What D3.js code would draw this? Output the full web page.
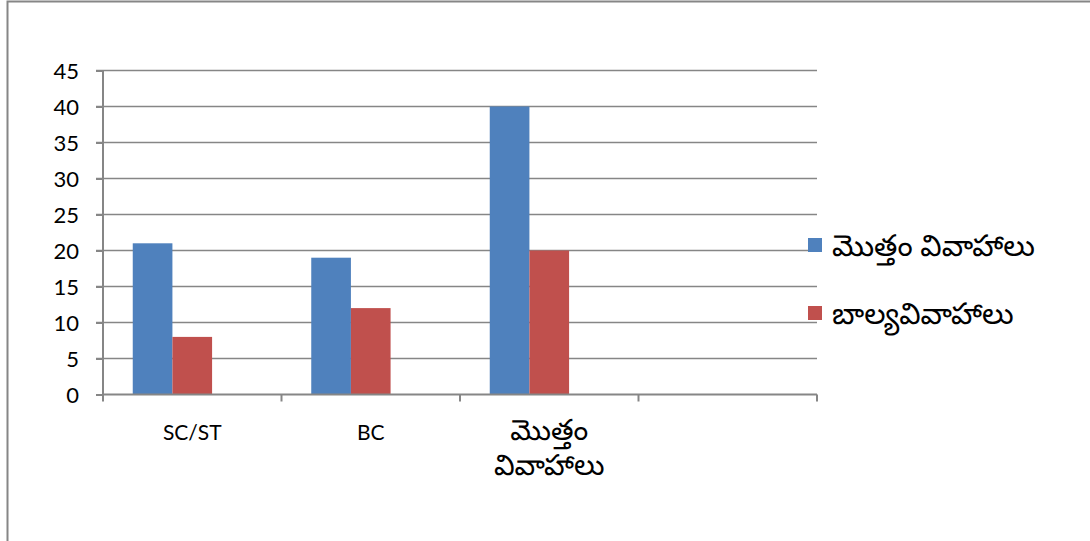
<!DOCTYPE html>
<html>
<head>
<meta charset="utf-8">
<script src="https://cdn.jsdelivr.net/npm/d3@7"></script>
<style>
  body { margin: 0; background: #fff; }
  text { font-family: Lato, "Noto Sans Telugu", "Noto Sans", sans-serif; fill: #000; }
</style>
</head>
<body>
<div class="chart"></div>
<script>
const categories = ['SC/ST', 'BC', 'మొత్తం వివాహాలు', ''];
const categoryLines = [['SC/ST'], ['BC'], ['మొత్తం', 'వివాహాలు'], []];
const seriesNames = ['మొత్తం వివాహాలు', 'బాల్యవివాహాలు', ''];
const totalMarriages = [21, 19, 40, null];
const childMarriages = [8, 12, 20, null];
const emptySeries = [null, null, null, null];
const yTicks = [0, 5, 10, 15, 20, 25, 30, 35, 40, 45];

const colors = ['#4f81bd', '#c0504d', '#9bbb59'];
const seriesValues = [totalMarriages, childMarriages, emptySeries];

const FULL_WIDTH = 1090;
const FULL_HEIGHT = 541;
const margin = { top: 70.5, left: 103, right: 273, bottom: 146.5 };
const width = FULL_WIDTH - margin.left - margin.right;
const height = FULL_HEIGHT - margin.top - margin.bottom;

const isTelugu = s => /[\u0C00-\u0C7F]/.test(s);

const root = d3.select('.chart')
  .append('svg')
    .attr('width', FULL_WIDTH)
    .attr('height', FULL_HEIGHT);

// chart frame (only left and top edges fall inside the picture)
root.append('path')
  .attr('d', 'M7.5,560 V1.5 H1100')
  .attr('fill', 'none')
  .attr('stroke', '#868686')
  .attr('stroke-width', 2);

const svg = root.append('g')
  .attr('transform', `translate(${margin.left}, ${margin.top})`);

const xScale = d3.scaleBand()
  .domain(categories)
  .range([0, width]);

const inner = d3.scaleBand()
  .domain(d3.range(seriesNames.length))
  .range([0, xScale.bandwidth()])
  .paddingOuter(0.75)
  .paddingInner(0);

const yScale = d3.scaleLinear()
  .domain([0, 45])
  .range([height, 0]);

// gridlines
svg.append('g')
  .selectAll('line')
  .data(yTicks.filter(d => d > 0))
  .join('line')
    .attr('x1', -7)
    .attr('x2', width)
    .attr('y1', d => yScale(d))
    .attr('y2', d => yScale(d))
    .attr('stroke', '#868686')
    .attr('stroke-width', 1.5);

// bars
seriesValues.forEach((vals, i) => {
  svg.append('g')
    .selectAll('rect')
    .data(categories.map((c, j) => ({ c, v: vals[j] })).filter(d => d.v != null))
    .join('rect')
      .attr('x', d => xScale(d.c) + inner(i))
      .attr('width', inner.bandwidth())
      .attr('y', d => yScale(d.v))
      .attr('height', d => height - yScale(d.v))
      .attr('fill', colors[i]);
});

// y axis
const yAxis = svg.append('g')
  .call(d3.axisLeft(yScale).tickValues(yTicks).tickSize(7).tickPadding(17));
yAxis.selectAll('text').style('font-size', '22px').attr('dy', '0.36em').attr('fill', '#000');
yAxis.select('.domain').attr('stroke', '#868686').attr('stroke-width', 2).attr('d', `M0,0V${height}`);
yAxis.selectAll('.tick line').attr('stroke', '#868686').attr('stroke-width', 2);

// x axis
const xAxis = svg.append('g')
  .attr('transform', `translate(0, ${height})`);
xAxis.append('line')
  .attr('x1', 0).attr('x2', width)
  .attr('stroke', '#868686').attr('stroke-width', 2);
xAxis.selectAll('line.t')
  .data(d3.range(categories.length + 1))
  .join('line')
    .attr('class', 't')
    .attr('x1', i => i < categories.length ? xScale(categories[i]) : width)
    .attr('x2', i => i < categories.length ? xScale(categories[i]) : width)
    .attr('y1', 0).attr('y2', 7)
    .attr('stroke', '#868686').attr('stroke-width', 2);

categories.forEach((c, i) => {
  const cx = xScale(c) + xScale.bandwidth() / 2;
  const t = xAxis.append('text')
    .attr('x', cx)
    .attr('y', 45)
    .attr('text-anchor', 'middle');
  categoryLines[i].forEach((line, k) => {
    t.append('tspan')
      .attr('x', cx)
      .attr('dy', k === 0 ? 0 : 35)
      .style('font-size', isTelugu(line) ? '29px' : '21px')
      .text(line);
  });
});

// legend
const legend = root.append('g')
  .attr('transform', 'translate(808, 238)');
seriesNames.slice(0, 2).forEach((name, i) => {
  const g = legend.append('g').attr('transform', `translate(0, ${i * 68})`);
  g.append('rect')
    .attr('width', 14).attr('height', 14)
    .attr('fill', colors[i]);
  g.append('text')
    .attr('x', 24)
    .attr('y', 18)
    .style('font-size', '30px')
    .text(name);
});
</script>
</body>
</html>
